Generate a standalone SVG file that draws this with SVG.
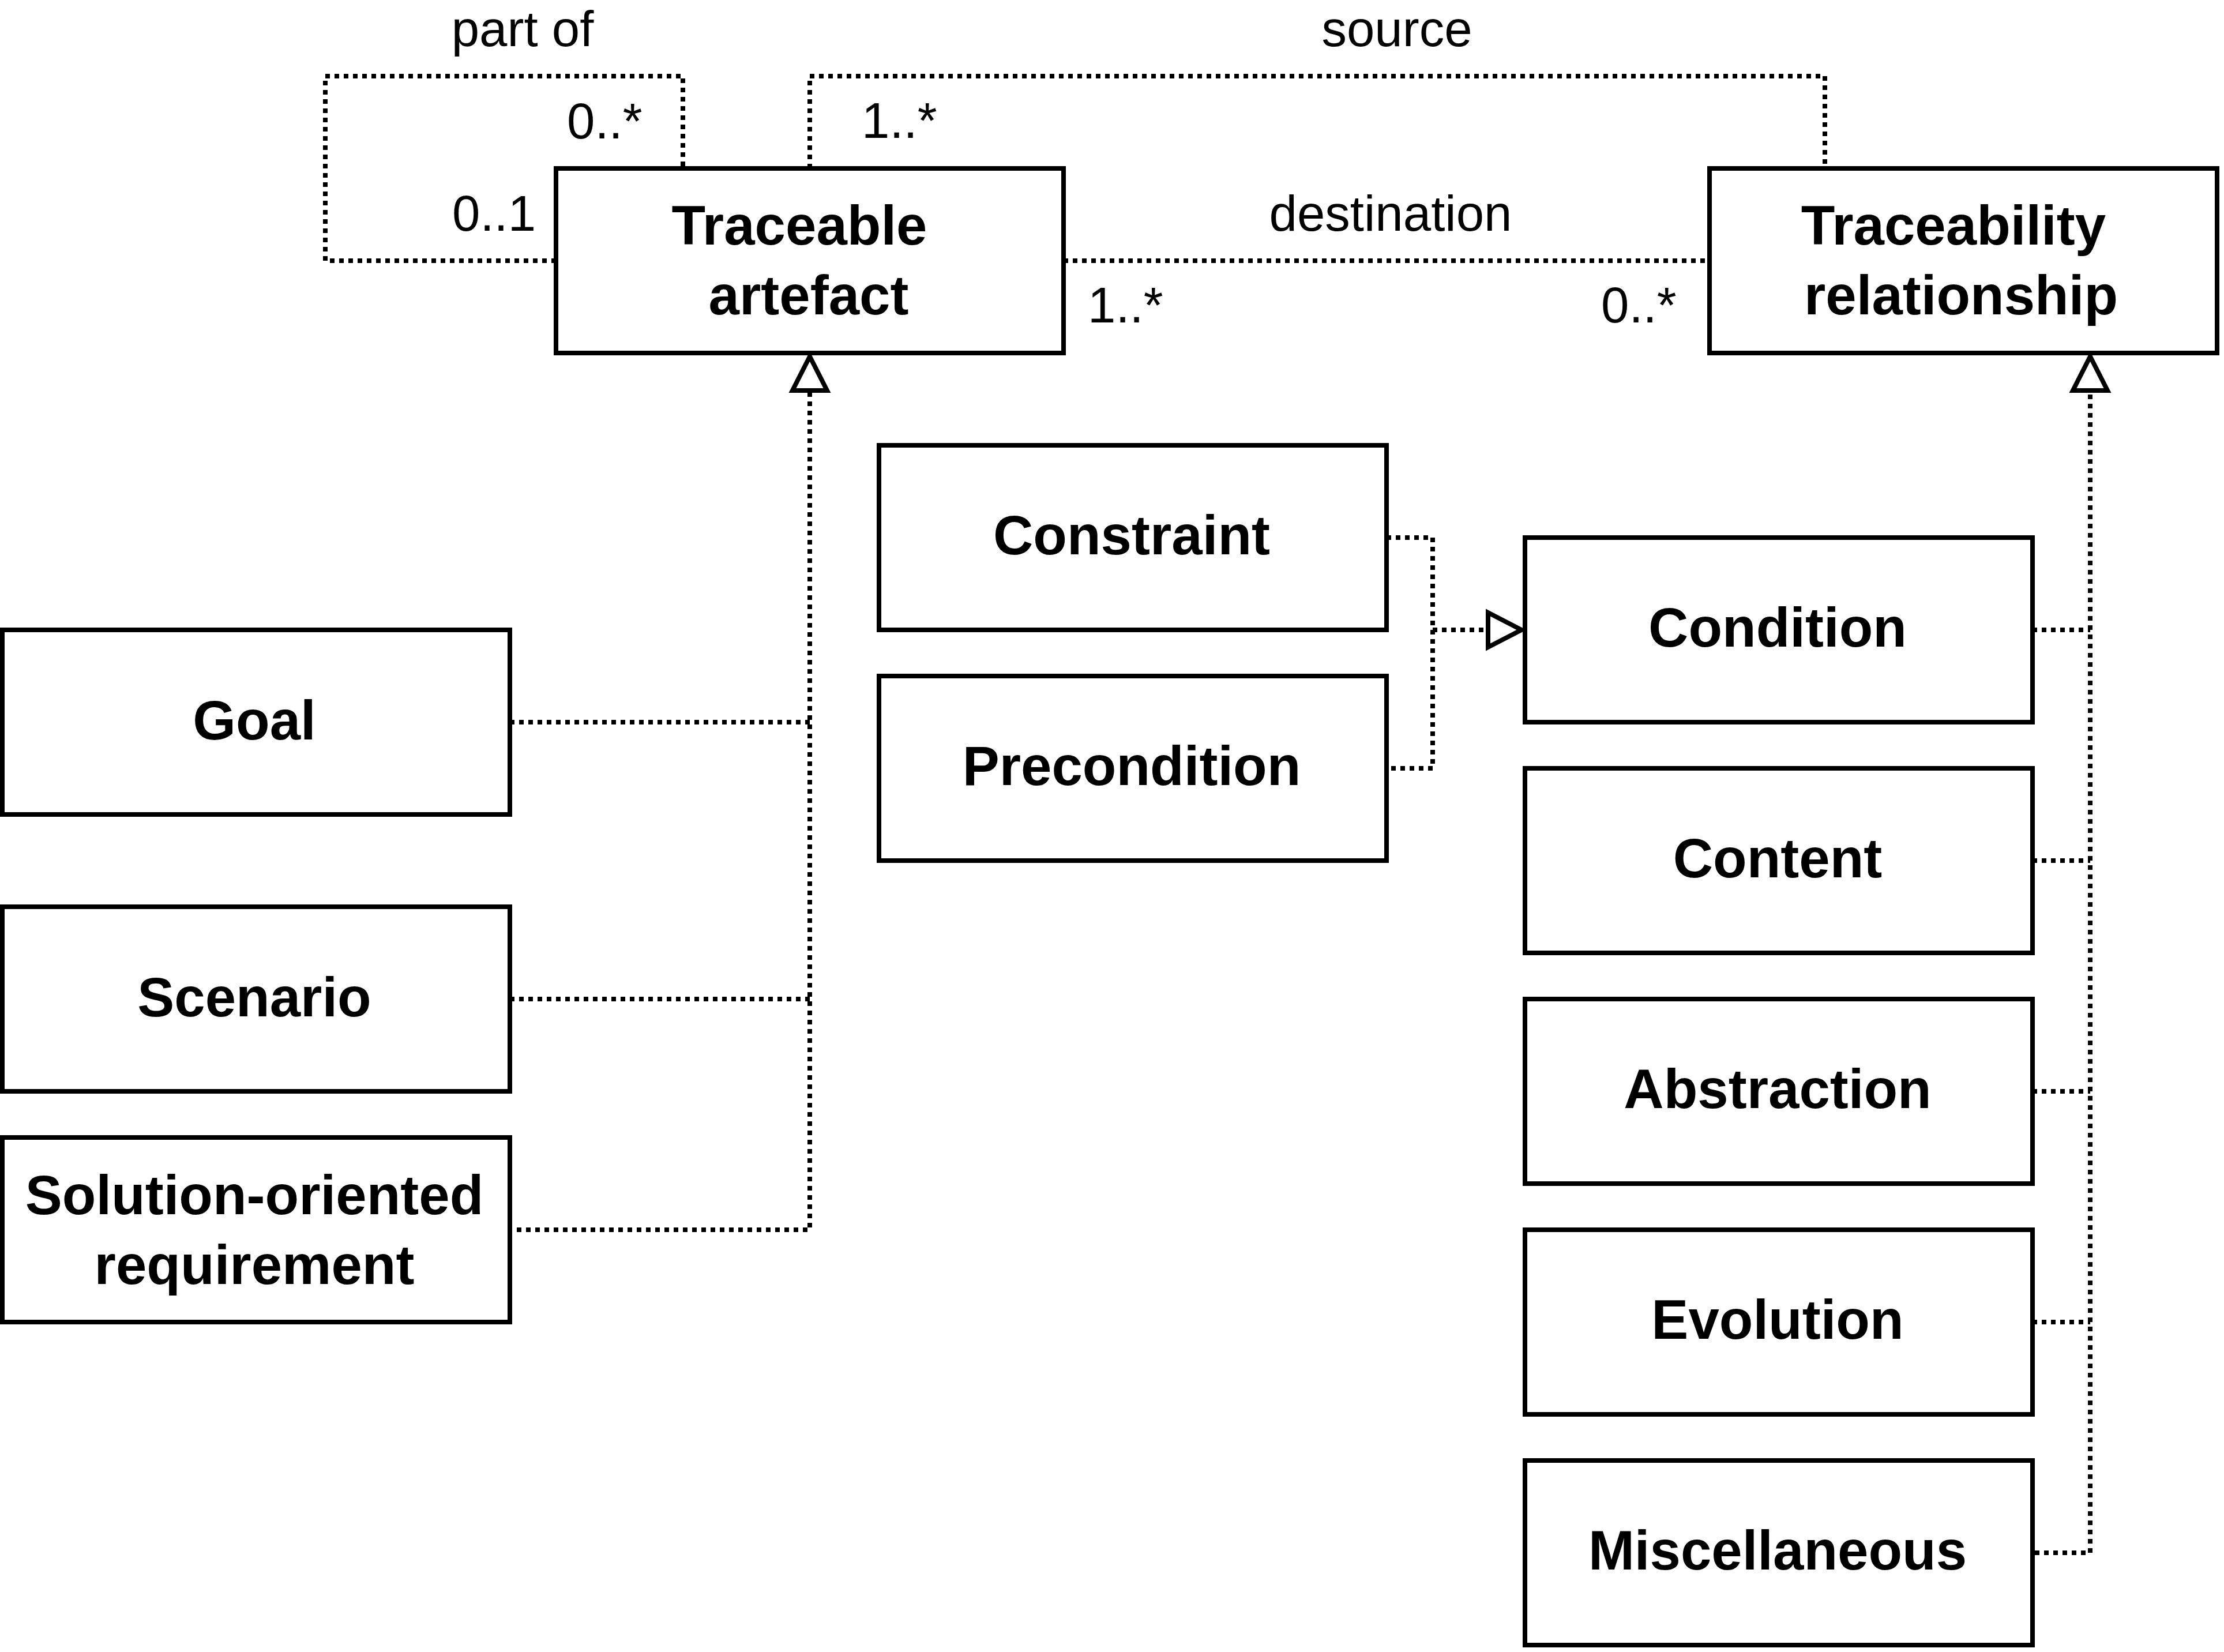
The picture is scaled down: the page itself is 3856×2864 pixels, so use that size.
<svg xmlns="http://www.w3.org/2000/svg" width="3856" height="2864" viewBox="0 0 3856 2864">
<style>
.box{fill:#fff;stroke:#000;stroke-width:8}
.lbl{font-family:"Liberation Sans",Arial,sans-serif;font-weight:bold;font-size:96px;text-anchor:middle;fill:#000}
.el{font-family:"Liberation Sans",Arial,sans-serif;font-size:87px;fill:#000}
.mul{font-family:"Liberation Sans",Arial,sans-serif;font-size:87px;fill:#000}
.dot{fill:none;stroke:#000;stroke-width:8;stroke-dasharray:8 8}
.tri{fill:#fff;stroke:#000;stroke-width:8;stroke-linejoin:miter}
</style>
<rect width="3856" height="2864" fill="#fff"/>
<g id="connectors">
<path class="dot" d="M964,452 H564 V132 H1184 V292"/>
<path class="dot" d="M1404,292 V132 H3164 V292"/>
<path class="dot" d="M1844,452 H2964"/>
<path class="dot" d="M1404,680 V2132 H884"/>
<path class="dot" d="M884,1252 H1404"/>
<path class="dot" d="M884,1732 H1404"/>
<path class="dot" d="M2404,932 H2484 V1332 H2404"/>
<path class="dot" d="M2484,1092 H2578"/>
<path class="dot" d="M3624,684 V2692 H3524"/>
<path class="dot" d="M3524,1092 H3624"/>
<path class="dot" d="M3524,1492 H3624"/>
<path class="dot" d="M3524,1892 H3624"/>
<path class="dot" d="M3524,2292 H3624"/>
<polygon class="tri" points="1404,618 1434,677 1374,677"/>
<polygon class="tri" points="3624,618 3654,677 3594,677"/>
<polygon class="tri" points="2638,1092 2580,1062 2580,1122"/>
<text class="el" x="906" y="80" text-anchor="middle">part of</text>
<text class="el" x="2422" y="80" text-anchor="middle">source</text>
<text class="el" x="2411" y="400" text-anchor="middle">destination</text>
<text class="mul" x="983" y="240">0..*</text>
<text class="mul" x="784" y="400">0..1</text>
<text class="mul" x="1494" y="239">1..*</text>
<text class="mul" x="1886" y="559">1..*</text>
<text class="mul" x="2776" y="559">0..*</text>
</g>
<g id="traceable-artefact"><rect class="box" x="964" y="292" width="880" height="320"/><text class="lbl" x="1386" y="424">Traceable</text><text class="lbl" x="1402" y="545">artefact</text></g>
<g id="traceability-relationship"><rect class="box" x="2964" y="292" width="880" height="320"/><text class="lbl" x="3387" y="424">Traceability</text><text class="lbl" x="3400" y="545">relationship</text></g>
<g id="constraint"><rect class="box" x="1524" y="772" width="880" height="320"/><text class="lbl" x="1962" y="961">Constraint</text></g>
<g id="precondition"><rect class="box" x="1524" y="1172" width="880" height="320"/><text class="lbl" x="1962" y="1361">Precondition</text></g>
<g id="goal"><rect class="box" x="4" y="1092" width="880" height="320"/><text class="lbl" x="441" y="1282">Goal</text></g>
<g id="scenario"><rect class="box" x="4" y="1572" width="880" height="320"/><text class="lbl" x="441" y="1762">Scenario</text></g>
<g id="solution-oriented-requirement"><rect class="box" x="4" y="1972" width="880" height="320"/><text class="lbl" x="441" y="2105">Solution-oriented</text><text class="lbl" x="441" y="2226">requirement</text></g>
<g id="condition"><rect class="box" x="2644" y="932" width="880" height="320"/><text class="lbl" x="3082" y="1121">Condition</text></g>
<g id="content"><rect class="box" x="2644" y="1332" width="880" height="320"/><text class="lbl" x="3082" y="1521">Content</text></g>
<g id="abstraction"><rect class="box" x="2644" y="1732" width="880" height="320"/><text class="lbl" x="3082" y="1921">Abstraction</text></g>
<g id="evolution"><rect class="box" x="2644" y="2132" width="880" height="320"/><text class="lbl" x="3082" y="2321">Evolution</text></g>
<g id="miscellaneous"><rect class="box" x="2644" y="2532" width="880" height="320"/><text class="lbl" x="3082" y="2721">Miscellaneous</text></g>
</svg>
